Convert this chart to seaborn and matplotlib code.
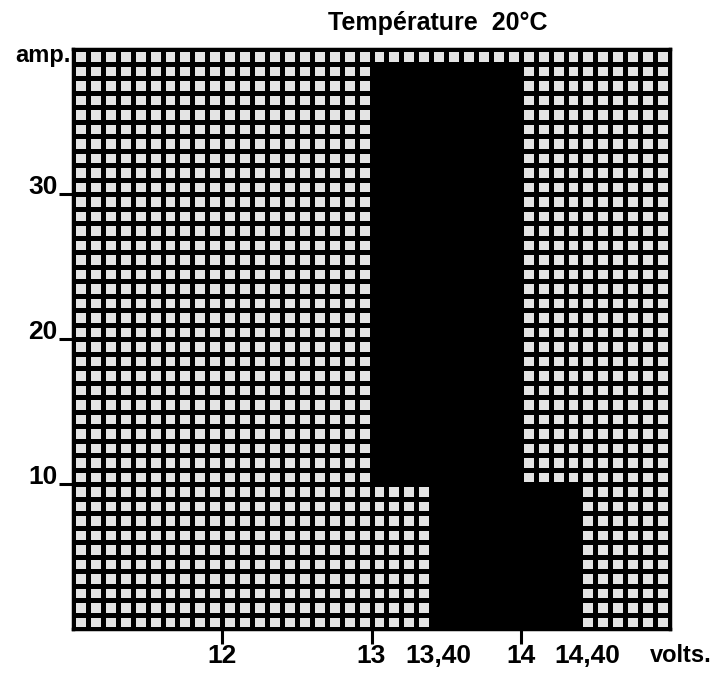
"""
Charging zone chart (amp vs volts) drawn on graph paper with seaborn heatmap.
"""
import numpy as np
import pandas as pd
import seaborn as sns
from matplotlib import pyplot as plt
from matplotlib.colors import ListedColormap
from matplotlib.transforms import ScaledTranslation

# graph paper: volts along x, amps along y
volt_min, volt_max, volt_step = 11.0, 15.0, 0.1
amp_min, amp_max, amp_step = 0, 40, 1

# black zones (volts from/to, amps from/to)
zone_volt_lo = [13.0, 13.4]
zone_volt_hi = [14.0, 14.4]
zone_amp_lo = [10, 0]
zone_amp_hi = [39, 10]

volt_ticks = [12, 13, 13.4, 14, 14.4]
volt_labels = ["12", "13", "13,40", "14", "14,40"]
volt_marked = [True, True, False, True, False]
amp_ticks = [10, 20, 30]
amp_labels = ["10", "20", "30"]

title = "Température  20°C"

font = ['Liberation Sans', 'DejaVu Sans']


def build_grid():
    """One cell per 0.1 V x 1 A, 1 where the cell lies in a black zone."""
    n_cols = int(round((volt_max - volt_min) / volt_step))
    n_rows = int(round((amp_max - amp_min) / amp_step))
    volt_mid = volt_min + volt_step * (np.arange(n_cols) + 0.5)
    amp_mid = amp_min + amp_step * (np.arange(n_rows) + 0.5)
    grid = np.zeros((n_rows, n_cols))
    for vlo, vhi, alo, ahi in zip(zone_volt_lo, zone_volt_hi, zone_amp_lo, zone_amp_hi):
        inside_v = (volt_mid > vlo) & (volt_mid < vhi)
        inside_a = (amp_mid > alo) & (amp_mid < ahi)
        grid[np.ix_(inside_a, inside_v)] = 1
    # heatmap rows go top to bottom
    df = pd.DataFrame(grid[::-1], index=amp_mid[::-1], columns=volt_mid)
    return df, n_rows


df, n_rows = build_grid()

fig = plt.figure(figsize=(7.26, 6.74), dpi=100)
ax = fig.add_axes([73 / 726, 1 - 629 / 674, (670 - 73) / 726, (629 - 49) / 674])

sns.heatmap(df, ax=ax, cmap=ListedColormap(['#e4e4e4', 'black']), vmin=0, vmax=1,
            cbar=False, linewidths=2.5, linecolor='black',
            xticklabels=False, yticklabels=False)

for s in ax.spines.values():
    s.set_visible(True)
    s.set_linewidth(2.5)
    s.set_color('black')

# ticks in heatmap cell coordinates
ax.set_xticks([(v - volt_min) / volt_step for v in volt_ticks])
ax.set_xticklabels(volt_labels, fontsize=19, fontweight='bold', family=font)
ax.set_yticks([n_rows - a / amp_step for a in amp_ticks])
ax.set_yticklabels(amp_labels, fontsize=19, fontweight='bold', family=font, rotation=0)
ax.tick_params(axis='x', length=11, width=2.2, pad=0, color='black')
ax.tick_params(axis='y', length=10, width=2.2, pad=1, color='black')
for tick, marked, lbl in zip(ax.xaxis.get_major_ticks(), volt_marked, ax.get_xticklabels()):
    tick.tick1line.set_visible(marked)
    if not marked:
        # the comma labels sit a little right of their value
        lbl.set_transform(lbl.get_transform() + ScaledTranslation(0.07, 0, fig.dpi_scale_trans))
for lbl in ax.get_yticklabels():
    lbl.set_va('baseline')

fig.text(71 / 726, 1 - 62 / 674, "amp.", ha='right', va='baseline',
         fontsize=17, fontweight='bold', family=font)
fig.text(650 / 726, 1 - 662 / 674, "volts.", ha='left', va='baseline',
         fontsize=17, fontweight='bold', family=font)
fig.text(328 / 726, 1 - 30 / 674, title, ha='left', va='baseline',
         fontsize=18, fontweight='bold', family=font)

fig.savefig("out.png", dpi=100, facecolor='white')
